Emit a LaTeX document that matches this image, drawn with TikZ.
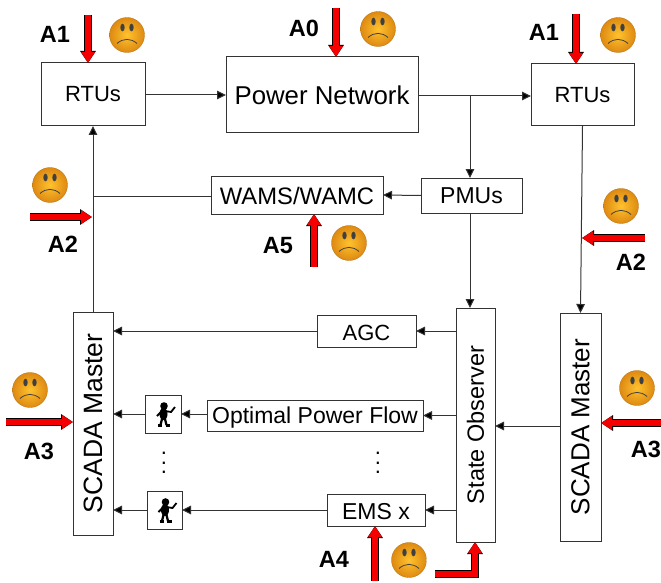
\documentclass[tikz,border=0pt]{standalone}
\usepackage{fontspec}
\setmainfont{Liberation Sans}
\usetikzlibrary{arrows.meta}
\newcommand{\fs}[1]{\fontsize{#1pt}{#1pt}\selectfont}
\newcommand{\stackdots}{\vbox{\offinterlineskip\hbox{.}\kern7pt\hbox{.}\kern7pt\hbox{.}}}
\definecolor{edgegray}{HTML}{333333}
\definecolor{redfill}{HTML}{F40000}
\definecolor{faceinner}{HTML}{FFC22E}
\definecolor{faceouter}{HTML}{DE8A12}
\tikzset{
  box/.style={draw=edgegray,line width=1pt,fill=white,inner sep=0pt,outer sep=0pt,font=\fs{22}},
  conn/.style={draw=edgegray,line width=1pt,-{Triangle[length=9pt,width=8.5pt,fill=black]}},
  plain/.style={draw=edgegray,line width=1pt},
  attack/.style={draw=redfill,line width=6.3pt,-{Triangle[length=11pt,width=13pt,fill=redfill]},
    preaction={draw=black,line width=7.3pt,-{Triangle[length=12pt,width=15pt,fill=black]}}},
  alabel/.style={font=\fs{23.5}\bfseries,inner sep=0pt},
  smiley/.pic={
    \shade[inner color=faceinner,outer color=faceouter,draw=faceouter!80!black,line width=.3pt] (0,0) circle (17.5);
    \fill[black!75] (-4.5,-7.5) ellipse (2.2 and 3.8);
    \fill[black!75] (4.5,-7.5) ellipse (2.2 and 3.8);
    \draw[black!75,line width=.8pt] (-10,8.5) .. controls (-4,3) and (4,3) .. (10,8.5);
  },
  stickman/.pic={
    \fill (1,-8) circle (3.8);
    \fill (0.5,0) ellipse (4 and 6.2);
    \draw[line width=2.2pt] (-0.5,3) -- (-2.5,11);
    \draw[line width=2.2pt] (1.5,3) -- (3.5,11);
    \draw[line width=2.6pt] (-5,11.5) -- (-1,11.5);
    \draw[line width=2.6pt] (2.5,11.5) -- (7,11.5);
    \draw[line width=1.8pt] (2,-3) -- (8,-2) -- (12,-7);
    \draw[line width=1.8pt] (-1,-3) -- (-6,2);
  }
}
\begin{document}
\begin{tikzpicture}[x=1pt,y=-1pt]
\useasboundingbox (0,0) rectangle (661,583);
% boxes
\node[box,minimum width=104pt,minimum height=63pt] (rtul) at (93,94.5) {RTUs};
\node[box,minimum width=192pt,minimum height=76pt,font=\fs{25.8}] (pn) at (322,95) {Power Network};
\node[box,minimum width=103pt,minimum height=62pt] (rtur) at (582.5,95) {RTUs};
\node[box,minimum width=172pt,minimum height=38pt,font=\fs{23.8},text height=19.5pt,text depth=0pt] (wams) at (297,195) {WAMS/WAMC};
\node[box,minimum width=101pt,minimum height=35pt,font=\fs{23}] (pmu) at (471.5,195.5) {PMUs};
\node[box,minimum width=99pt,minimum height=32pt,text height=18pt,text depth=0pt] (agc) at (366.5,331) {AGC};
\node[box,minimum width=216pt,minimum height=31pt,font=\fs{23},text height=16pt,text depth=0.4pt] (opf) at (315,415.5) {Optimal Power Flow};
\node[box,minimum width=98pt,minimum height=32pt,font=\fs{23},text height=18.5pt,text depth=0pt] (ems) at (376,510) {EMS x};
\node[box,minimum width=39pt,minimum height=234pt,font=\fs{23.5}] (state) at (475.5,425) {\rotatebox{90}{State Observer}};
\node[box,minimum width=40pt,minimum height=223pt,font=\fs{26.5}] (scl) at (93,423.5) {\rotatebox{90}{SCADA Master}};
\node[box,minimum width=41pt,minimum height=228pt,font=\fs{26}] (scr) at (580.5,427) {\rotatebox{90}{SCADA Master}};
\node[box,minimum width=36pt,minimum height=38pt] (fa) at (163,414) {};
\node[box,minimum width=35pt,minimum height=38pt] (fb) at (164.5,510) {};
\pic at (fa.center) {stickman};
\pic at (fb.center) {stickman};
% connectors
\draw[conn] (rtul.east |- 0,95) -- (pn.west |- 0,95);
\draw[conn] (pn.east |- 0,96) -- (rtur.west |- 0,96);
\coordinate (branch) at (470,96);
\draw[conn] (branch) -- (branch |- pmu.north);
\draw[conn] (pmu.west) -- (wams.east);
\coordinate (up) at (93,196);
\draw[plain] (wams.west |- up) -- (up);
\draw[conn] (scl.north) -- (rtul.south);
\draw[conn] (branch |- pmu.south) -- (branch |- state.north);
\draw[conn] (rtur.south) -- (scr.north);
\draw[conn] (scr.west |- 0,426) -- (state.east |- 0,426);
\draw[conn] (state.west |- agc) -- (agc.east);
\draw[conn] (agc.west) -- (scl.east |- agc);
\draw[conn] (state.west |- opf) -- (opf.east);
\draw[conn] (opf.west |- fa) -- (fa.east);
\draw[conn] (fa.west) -- (scl.east |- fa);
\draw[conn] (state.west |- ems) -- (ems.east);
\draw[conn] (ems.west) -- (fb.east);
\draw[conn] (fb.west) -- (scl.east |- fb);
% dots
\node[font=\fs{22},inner sep=0pt] (da) at (164,463) {\stackdots};
\node[font=\fs{22},inner sep=0pt] (db) at (378,463) {\stackdots};
% attack arrows
\coordinate (s1) at (88,15);   \draw[attack] (s1) -- (s1 |- rtul.north);
\coordinate (s0) at (336,8);   \draw[attack] (s0) -- (s0 |- pn.north);
\coordinate (s2) at (576,14);  \draw[attack] (s2) -- (s2 |- rtur.north);
\coordinate (s3) at (30,217);  \coordinate (e3) at (92,217);  \draw[attack] (s3) -- (e3);
\coordinate (s4) at (645,238); \coordinate (e4) at (582,238); \draw[attack] (s4) -- (e4);
\coordinate (s5) at (314,267); \draw[attack] (s5) -- (s5 |- wams.south);
\coordinate (s6) at (6,422);   \draw[attack] (s6) -- (scl.west |- s6);
\coordinate (s7) at (661,423); \draw[attack] (s7) -- (scr.east |- s7);
\coordinate (s8) at (375,581); \draw[attack] (s8) -- (s8 |- ems.south);
\coordinate (s9) at (435,574); \coordinate (k9) at (475,574);
\draw[attack] (s9) -- (k9) -- (k9 |- state.south);
% smileys
\pic at (127,35) {smiley};
\pic at (378,29) {smiley};
\pic at (618,35) {smiley};
\pic at (50,185) {smiley};
\pic at (621,206) {smiley};
\pic at (349,243) {smiley};
\pic at (30,390) {smiley};
\pic at (637,388) {smiley};
\pic at (409,560) {smiley};
% labels
\node[alabel] (l1) at (55,34) {A1};
\node[alabel] (l0) at (304,28) {A0};
\node[alabel] (l2) at (544,32) {A1};
\node[alabel] (l3) at (63,244) {A2};
\node[alabel] (l4) at (631,262) {A2};
\node[alabel] (l5) at (278,246) {A5};
\node[alabel] (l6) at (39,451) {A3};
\node[alabel] (l7) at (646,449) {A3};
\node[alabel] (l8) at (334,559) {A4};
\end{tikzpicture}
\end{document}
